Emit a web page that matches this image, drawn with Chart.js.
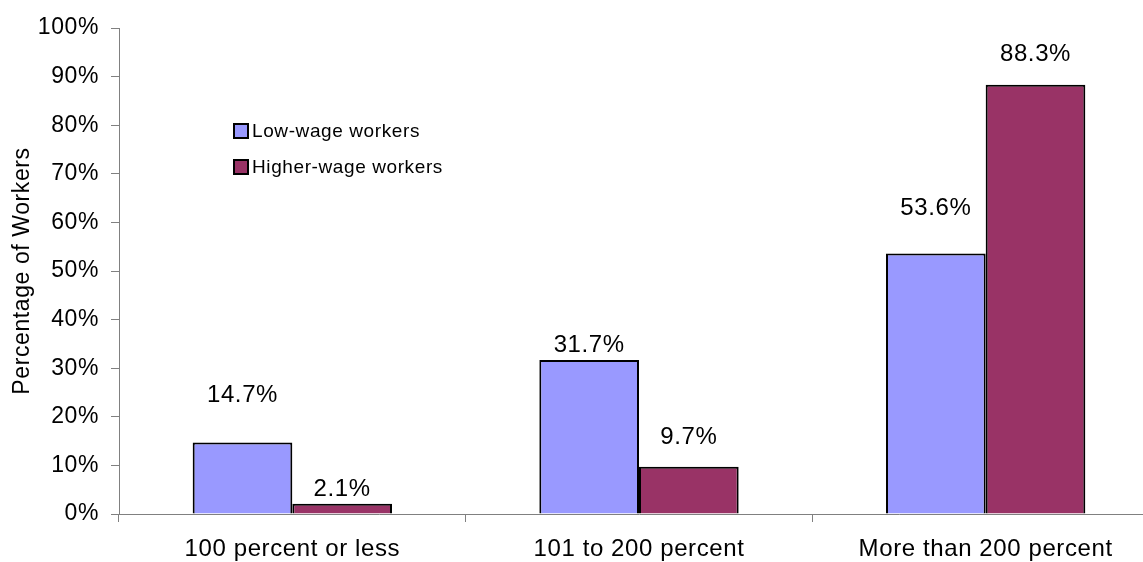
<!DOCTYPE html>
<html>
<head>
<meta charset="utf-8">
<script src="https://cdn.jsdelivr.net/npm/chart.js@4/dist/chart.umd.min.js"></script>
<style>
  html, body { margin: 0; background: white; overflow: hidden; }
  #box { width: 1159px; height: 562px; }
</style>
</head>
<body>
<div id="box"><canvas id="grafico"></canvas></div>
<script>
const categorias = ['100 percent or less', '101 to 200 percent', 'More than 200 percent'];
const baixoSalario = [14.7, 31.7, 53.6];
const altoSalario = [2.1, 9.7, 88.3];
const ticksY = [0, 10, 20, 30, 40, 50, 60, 70, 80, 90, 100];

// distancia (px) do rotulo acima da barra, como no original
const deslocBaixo = [47, 15, 45];
const deslocAlto = [14, 29, 30];

const fonte = "'Liberation Sans', Arial, sans-serif";

// espacamento entre letras, o original tem texto um pouco mais largo
const espacamento = {
    id: 'espacamento',
    beforeInit(chart) { chart.ctx.letterSpacing = '0.6px'; },
    beforeUpdate(chart) { chart.ctx.letterSpacing = '0.6px'; },
    beforeDraw(chart) { chart.ctx.letterSpacing = '0.6px'; }
};

// rotulos de valor
const rotulos = {
    id: 'rotulos',
    afterDatasetsDraw(chart) {
        const c = chart.ctx;
        c.save();
        c.font = '24px ' + fonte;
        c.fillStyle = 'black';
        c.textAlign = 'center';
        c.textBaseline = 'middle';
        chart.data.datasets.forEach((ds, i) => {
            const offs = i === 0 ? deslocBaixo : deslocAlto;
            chart.getDatasetMeta(i).data.forEach((bar, j) => {
                c.fillText(ds.data[j].toFixed(1) + '%', bar.x, bar.y - offs[j]);
            });
        });
        c.restore();
    }
};

// legenda dentro da area do grafico
const legenda = {
    id: 'legenda',
    afterDraw(chart) {
        const c = chart.ctx;
        c.save();
        c.font = '19px ' + fonte;
        c.textBaseline = 'middle';
        chart.data.datasets.forEach((ds, i) => {
            const y = 131 + i * 36;
            c.fillStyle = ds.backgroundColor;
            c.fillRect(234, y - 7, 14, 14);
            c.strokeStyle = 'black';
            c.lineWidth = 2;
            c.strokeRect(234, y - 7, 14, 14);
            c.fillStyle = 'black';
            c.fillText(ds.label, 252, y + 1);
        });
        c.restore();
    }
};

const grafico = new Chart(document.getElementById('grafico'), {
    type: 'bar',
    data: {
        labels: categorias,
        datasets: [{
            label: 'Low-wage workers',
            data: baixoSalario,
            backgroundColor: '#9999FF',
            borderColor: 'black',
            borderWidth: 2,
            borderSkipped: 'bottom'
        }, {
            label: 'Higher-wage workers',
            data: altoSalario,
            backgroundColor: '#993366',
            borderColor: 'black',
            borderWidth: 2,
            borderSkipped: 'bottom'
        }]
    },
    options: {
        responsive: true,
        maintainAspectRatio: false,
        animation: false,
        datasets: { bar: { categoryPercentage: 0.575, barPercentage: 1 } },
        layout: { padding: { top: 28, right: 0, left: 0, bottom: 0 } },
        plugins: {
            legend: { display: false },
            title: { display: false },
            tooltip: { enabled: false }
        },
        scales: {
            x: {
                grid: {
                    display: true,
                    drawOnChartArea: false,
                    tickLength: 8,
                    color: '#808080'
                },
                border: { color: '#808080', width: 1 },
                ticks: {
                    color: 'black',
                    font: { family: fonte, size: 24 },
                    padding: 13,
                    maxRotation: 0
                },
                afterFit(s) { s.height = 48; }
            },
            y: {
                min: 0,
                max: 100,
                afterBuildTicks(s) { s.ticks = ticksY.map(v => ({ value: v })); },
                grid: {
                    drawOnChartArea: false,
                    tickLength: 8,
                    color: '#808080'
                },
                border: { color: '#808080', width: 1 },
                ticks: {
                    color: 'black',
                    font: { family: fonte, size: 23 },
                    padding: 12,
                    callback: v => v + '%'
                },
                title: {
                    display: true,
                    text: 'Percentage of Workers',
                    color: 'black',
                    font: { family: fonte, size: 23 },
                    padding: { top: 9, bottom: 0 }
                },
                afterFit(s) { s.width = 119; }
            }
        }
    },
    plugins: [espacamento, rotulos, legenda]
});
</script>
</body>
</html>
